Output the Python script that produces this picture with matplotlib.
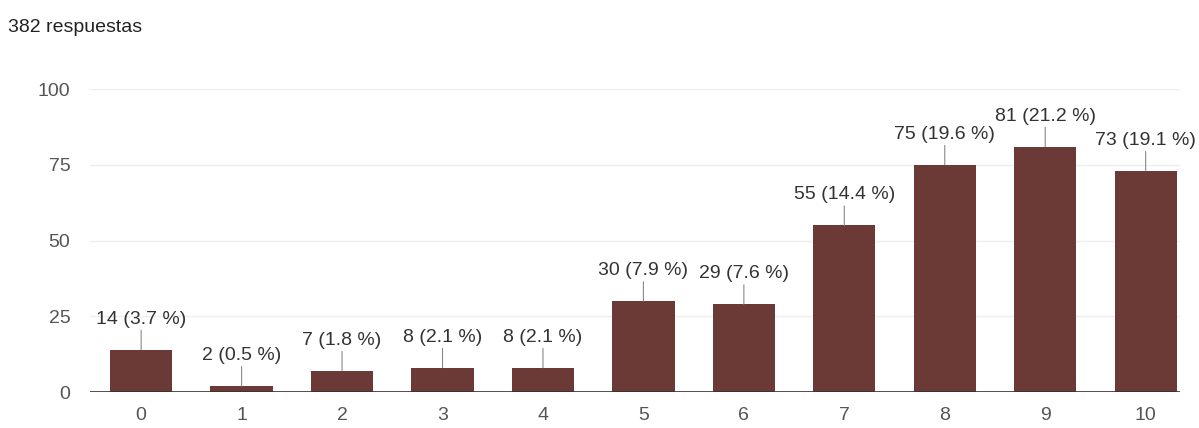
import matplotlib.pyplot as plt

plt.rcParams['font.family'] = ['Liberation Sans', 'DejaVu Sans']

categories = [0, 1, 2, 3, 4, 5, 6, 7, 8, 9, 10]
counts = [14, 2, 7, 8, 8, 30, 29, 55, 75, 81, 73]
percents = [3.7, 0.5, 1.8, 2.1, 2.1, 7.9, 7.6, 14.4, 19.6, 21.2, 19.1]
yticks = [0, 25, 50, 75, 100]

fig = plt.figure(figsize=(11.99, 4.28), dpi=100)
ax = fig.add_axes([0.075, 0.084, 0.909, 0.708])

ax.bar(categories, counts, width=0.62, color='#6b3a36', zorder=3)

for x, c, p in zip(categories, counts, percents):
    ax.annotate('', xy=(x, c), xytext=(0, 14), textcoords='offset points',
                xycoords='data',
                arrowprops=dict(arrowstyle='-', color='#888888', lw=0.8,
                                shrinkA=0, shrinkB=0), zorder=4)
    ax.annotate(f'{c} ({p} %)', xy=(x, c), xytext=(0, 22),
                textcoords='offset points', ha='center', va='center',
                fontsize=14, color='#333333')

ax.set_xlim(-0.51, 10.34)
ax.set_ylim(0, 100)
ax.set_yticks(yticks)
ax.set_xticks(categories)
ax.yaxis.grid(True, color='#eeeeee', lw=1, zorder=0)
ax.axhline(0, color='#333333', lw=1.2, zorder=5)
for s in ax.spines.values():
    s.set_visible(False)
ax.tick_params(length=0, labelsize=14, labelcolor='#555555')
ax.tick_params(axis='x', pad=11)
ax.tick_params(axis='y', pad=14)

fig.text(0.007, 0.935, '382 respuestas', fontsize=14, color='#222222',
         va='center', ha='left')

fig.savefig('out.png')
